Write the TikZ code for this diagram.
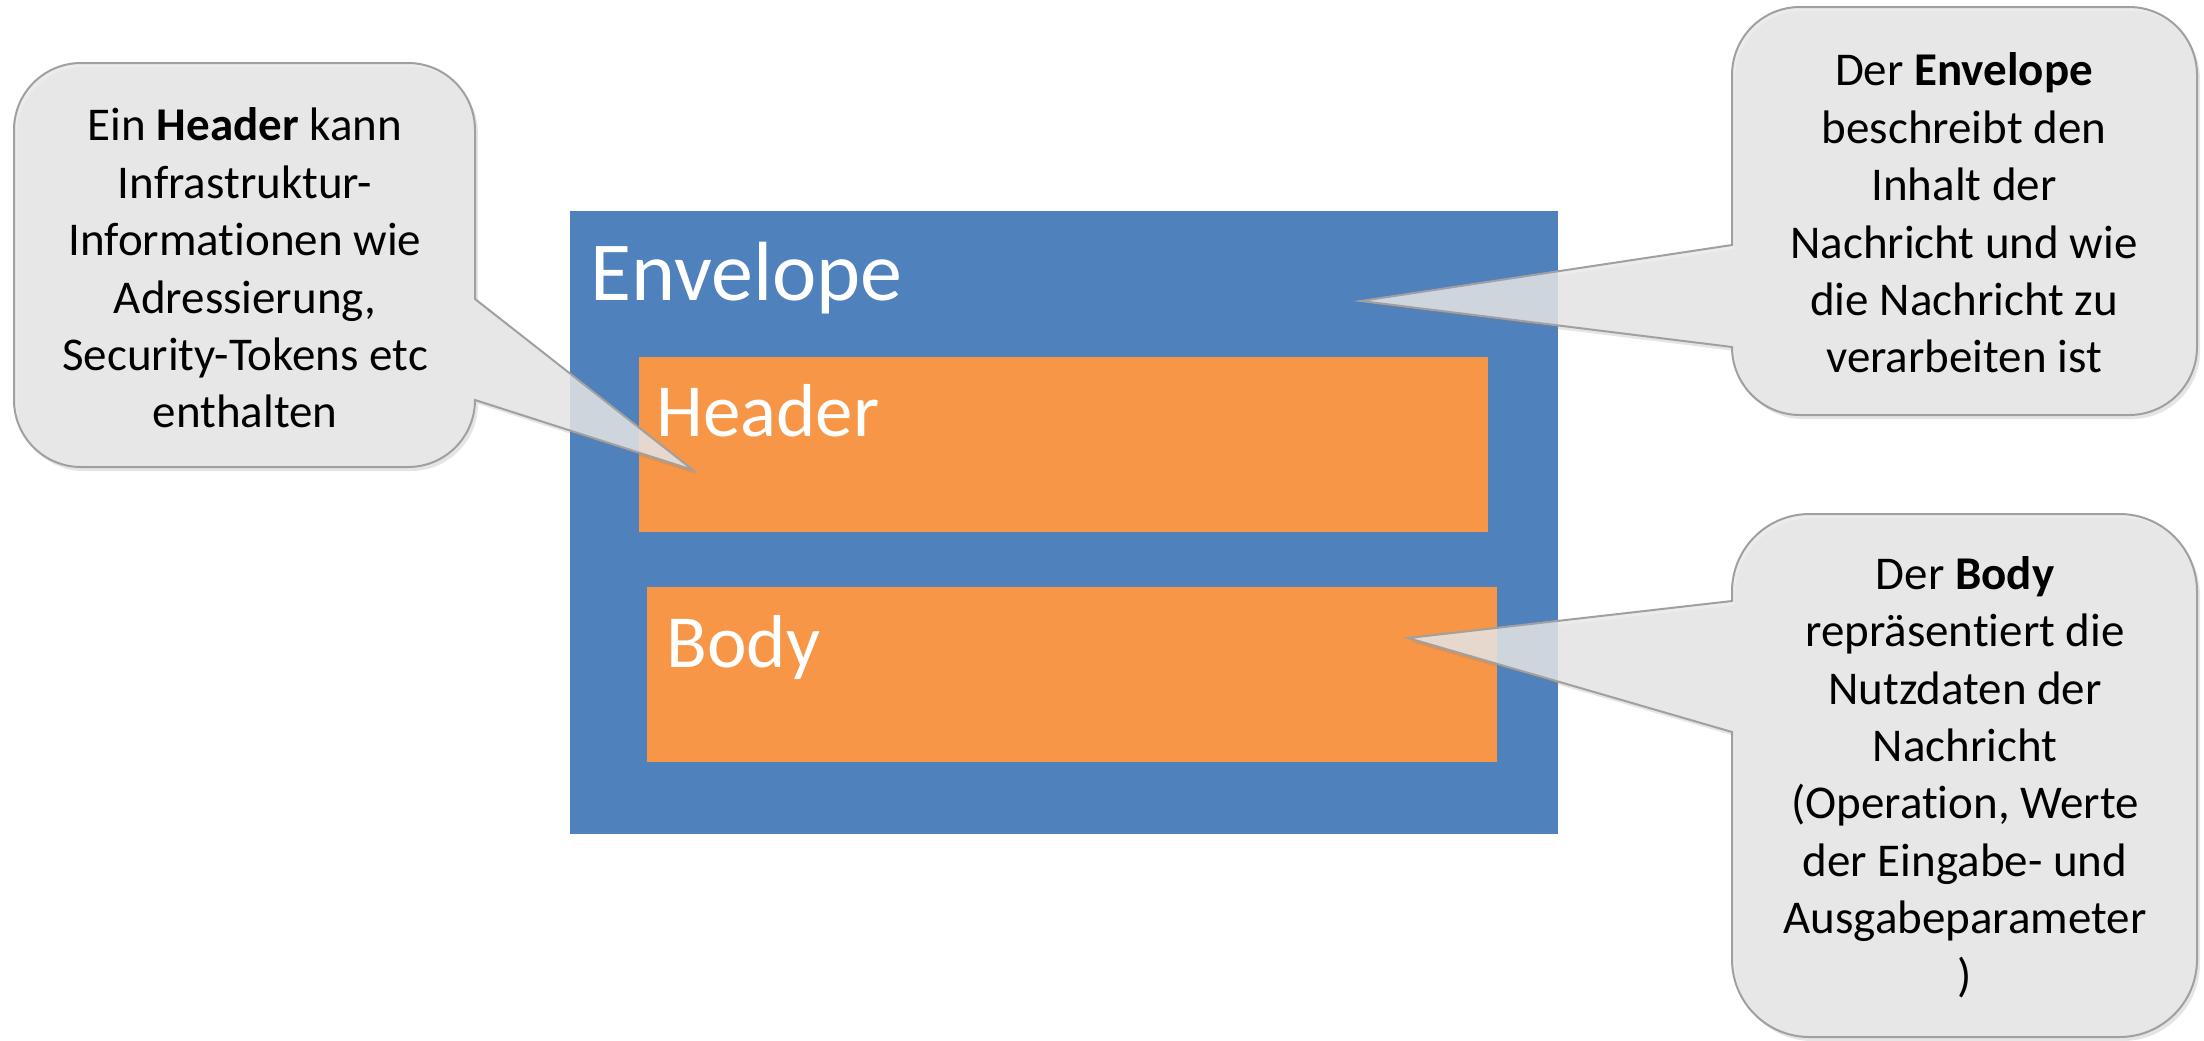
\documentclass[tikz,border=0pt]{standalone}
\usepackage{fontspec}
\setmainfont{Carlito}[Ligatures={NoCommon}]
\usetikzlibrary{shadows}
\definecolor{envblue}{RGB}{79,129,189}
\definecolor{partorange}{RGB}{247,150,70}
\definecolor{cofill}{RGB}{232,232,232}
\definecolor{coline}{RGB}{160,160,160}
\begin{document}
\begin{tikzpicture}[x=0.5pt,y=-0.5pt,
  envbox/.style={draw=none,fill=envblue,inner sep=0pt,outer sep=0pt},
  partbox/.style={draw=none,fill=partorange,inner sep=0pt,outer sep=0pt},
  boxlabel/.style={text=white,inner sep=0pt,anchor=base west},
  biglabel/.style={boxlabel,font=\fontsize{42}{50}\selectfont},
  midlabel/.style={boxlabel,font=\fontsize{37.5}{45}\selectfont},
  cotext/.style={align=center,inner sep=0pt,text=black,font=\fontsize{23.5}{28.7}\selectfont},
  coshape/.style={fill=cofill,fill opacity=0.82,draw=coline,line width=1pt,line join=miter,
    drop shadow={opacity=0.2,shadow xshift=1.5pt,shadow yshift=-2pt}}]

\useasboundingbox (0,0) rectangle (2204,1040);
\fill[white] (0,0) rectangle (2204,1040);

% main boxes
\node[envbox, minimum width=494.25pt, minimum height=311.5pt] (env) at (1063.75,522.5) {};
\node[partbox, minimum width=424.5pt, minimum height=87.5pt] (hdr) at (1063.5,444.5) {};
\node[partbox, minimum width=425pt, minimum height=87.5pt] (body) at (1072,674.5) {};
\node[biglabel] (envlabel) at (590,300) {Envelope};
\node[midlabel] (hdrlabel) at (656,436) {Header};
\node[midlabel] (bodylabel) at (666,667) {Body};

% pointer tips
\coordinate (tipL) at (693,470);
\coordinate (tipTR) at (1361,301);
\coordinate (tipBR) at (1408,638);

% left callout
\path[coshape] (81,63) -- (408,63) .. controls (445,63) and (475,93) .. (475,130)
  -- (475,299) -- (tipL) -- (475,400)
  .. controls (475,437) and (445,467) .. (408,467) -- (81,467)
  .. controls (44,467) and (14,437) .. (14,400) -- (14,130)
  .. controls (14,93) and (44,63) .. (81,63) -- cycle;
\node[cotext] (noteHeader) at (245,268) {Ein \textbf{Header} kann\\Infrastruktur-\\Informationen wie\\Adressierung,\\Security-Tokens etc\\enthalten};

% top right callout
\path[coshape] (1800,7) -- (2129,7) .. controls (2166.6,7) and (2197,37.4) .. (2197,75)
  -- (2197,347) .. controls (2197,384.6) and (2166.6,415) .. (2129,415)
  -- (1800,415) .. controls (1762.4,415) and (1732,384.6) .. (1732,347)
  -- (tipTR) -- (1732,245) -- (1732,75)
  .. controls (1732,37.4) and (1762.4,7) .. (1800,7) -- cycle;
\node[cotext] (noteEnvelope) at (1964,213) {Der \textbf{Envelope}\\beschreibt den\\Inhalt der\\Nachricht und wie\\die Nachricht zu\\verarbeiten ist};

% bottom right callout
\path[coshape] (1809.5,514) -- (2119.5,514) .. controls (2162.3,514) and (2197,548.7) .. (2197,591.5)
  -- (2197,959.5) .. controls (2197,1002.3) and (2162.3,1037) .. (2119.5,1037)
  -- (1809.5,1037) .. controls (1766.7,1037) and (1732,1002.3) .. (1732,959.5)
  -- (1732,732) -- (tipBR) -- (1732,601) -- (1732,591.5)
  .. controls (1732,548.7) and (1766.7,514) .. (1809.5,514) -- cycle;
\node[cotext] (noteBody) at (1965,777) {Der \textbf{Body}\\repräsentiert die\\Nutzdaten der\\Nachricht\\(Operation, Werte\\der Eingabe- und\\Ausgabeparameter\\)};
\end{tikzpicture}
\end{document}
